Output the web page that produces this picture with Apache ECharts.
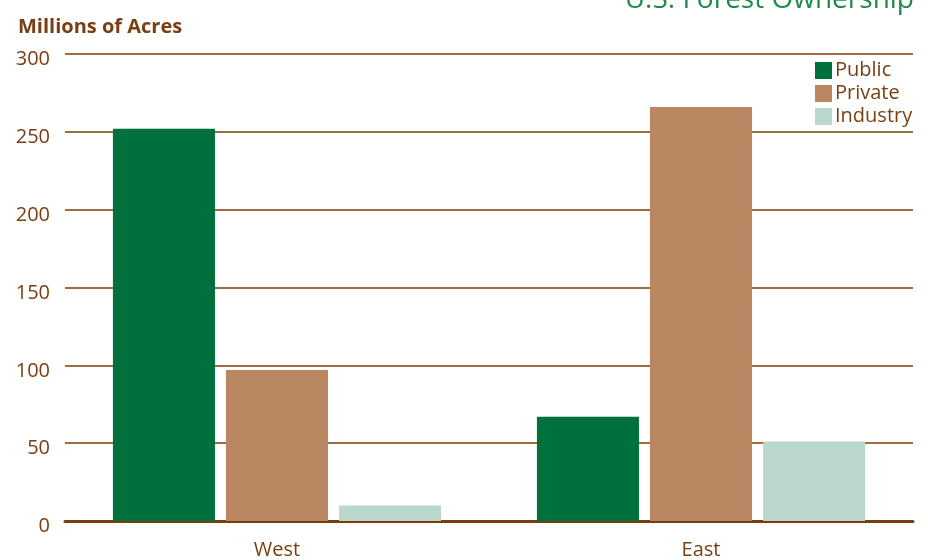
<!DOCTYPE html>
<html><head><meta charset="utf-8">
<script src="https://cdn.jsdelivr.net/npm/echarts@6/dist/echarts.min.js"></script>
<style>html,body{margin:0;padding:0;background:#fff}#c{width:928px;height:560px}</style>
</head><body><div id="c"></div>
<script>
var categories = ['West', 'East'];
var seriesNames = ['Public', 'Private', 'Industry'];
var publicVals = [252, 67];
var privateVals = [97, 266];
var industryVals = [10, 51];
var yTicks = [0, 50, 100, 150, 200, 250, 300];

var textColor = '#7a3e12';
var font = '"Open Sans", "Noto Sans", sans-serif';
var chart = echarts.init(document.getElementById('c'));
chart.setOption({
  animation: false,
  backgroundColor: '#ffffff',
  textStyle: { fontFamily: font },
  graphic: [
    { type: 'text', right: 14, top: -14, style: { text: 'U.S. Forest Ownership', fill: '#1f8a4c', font: '28px ' + font, textAlign: 'right' } },
    { type: 'text', left: 18, top: 17, style: { text: 'Millions of Acres', fill: textColor, font: 'bold 20px ' + font } }
  ],
  legend: {
    orient: 'vertical', left: 810, top: 54,
    itemWidth: 17, itemHeight: 17, itemGap: 0,
    icon: 'rect',
    textStyle: { color: textColor, fontSize: 20, fontFamily: font, padding: [0, 0, 0, -2], lineHeight: 23 },
    data: seriesNames
  },
  grid: { left: 65, right: 15, top: 54, bottom: 38 },
  xAxis: {
    type: 'category', data: categories,
    axisLine: { show: true, lineStyle: { color: '#7a3c0c', width: 3 } },
    axisTick: { show: false },
    axisLabel: { color: textColor, fontSize: 20, margin: 19, fontFamily: font }
  },
  yAxis: {
    type: 'value', min: yTicks[0], max: yTicks[yTicks.length - 1], interval: 50,
    axisLine: { show: false }, axisTick: { show: false },
    axisLabel: {
      color: textColor, fontSize: 20, margin: 15, fontFamily: font,
      formatter: '{v|{value}}',
      rich: { v: { color: textColor, fontSize: 20, fontFamily: font, padding: [11, 0, 0, 0] } }
    },
    splitLine: { lineStyle: { color: '#9e6c40', width: 2 } }
  },
  series: [
    { name: seriesNames[0], type: 'bar', data: publicVals, itemStyle: { color: '#00703c' }, barGap: '10.8%', barCategoryGap: '22.6%' },
    { name: seriesNames[1], type: 'bar', data: privateVals, itemStyle: { color: '#b98762' } },
    { name: seriesNames[2], type: 'bar', data: industryVals, itemStyle: { color: '#bbd7cb' } }
  ]
});
</script></body></html>
